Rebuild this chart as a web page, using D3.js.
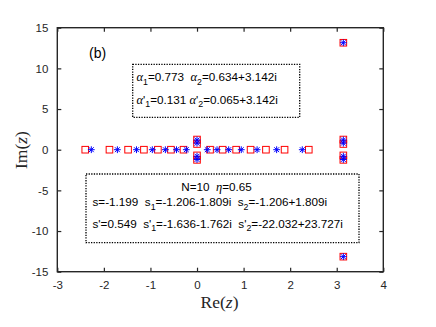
<!DOCTYPE html>
<html>
<head>
<meta charset="utf-8">
<script src="https://cdn.jsdelivr.net/npm/d3@7"></script>
<style>
  body { margin: 0; background: #fff; }
  text { font-family: "Liberation Sans", Arial, sans-serif; white-space: pre; }
</style>
</head>
<body>
<div id="graph"></div>
<script>
// real-axis roots (squares = red, stars = blue)
var sqRe = [-2.40, -1.88, -1.48, -1.14, -0.84, -0.56, -0.29, 0.28, 0.55, 0.84, 1.15, 1.48, 1.88, 2.40];
var starRe = [-2.27, -1.71, -1.30, -0.96, -0.68, -0.44, -0.23, 0.22, 0.43, 0.68, 0.95, 1.29, 1.71, 2.26];
// complex roots [re, im]
var sqCx = [[0, 1.25], [0, 0.7], [0, -0.7], [0, -1.25], [3.142, 1.25], [3.142, 0.7], [3.142, -0.7], [3.142, -1.25], [3.142, 13.15], [3.142, -13.15]];
var starCx = [[0, 1.2], [0, 0.8], [0, -0.8], [0, -1.2], [3.142, 1.2], [3.142, 0.8], [3.142, -0.8], [3.142, -1.2], [3.142, 13.15], [3.142, -13.15]];
var xTicks = [-3, -2, -1, 0, 1, 2, 3, 4];
var yTicks = [-15, -10, -5, 0, 5, 10, 15];

var width = 436, height = 327;
var margin = {left: 57.3, right: 436 - 383.3, top: 27.7, bottom: 327 - 271.7};
var w = width - margin.left - margin.right;
var h = height - margin.top - margin.bottom;
var x = d3.scaleLinear().domain([-3, 4]).range([0, w]);
var y = d3.scaleLinear().domain([-15, 15]).range([h, 0]);
var axisColor = "#262626";

var svg = d3.select("#graph").append("svg")
    .attr("width", width)
    .attr("height", height)
  .append("g")
    .attr("transform", "translate(" + margin.left + "," + margin.top + ")");

function fmt(d) { return String(d).replace("−", "-"); }

// axes with inward ticks, mirrored
var xb = svg.append("g").attr("transform", "translate(0," + h + ")")
    .call(d3.axisBottom(x).tickValues(xTicks).tickSizeInner(-4).tickSizeOuter(0).tickPadding(9).tickFormat(fmt));
var xt = svg.append("g")
    .call(d3.axisTop(x).tickValues(xTicks).tickSizeInner(-4).tickSizeOuter(0).tickFormat(""));
var yl = svg.append("g")
    .call(d3.axisLeft(y).tickValues(yTicks).tickSizeInner(-4).tickSizeOuter(0).tickPadding(9).tickFormat(fmt));
var yr = svg.append("g").attr("transform", "translate(" + w + ",0)")
    .call(d3.axisRight(y).tickValues(yTicks).tickSizeInner(-4).tickSizeOuter(0).tickFormat(""));
[xb, xt, yl, yr].forEach(function(a) {
  a.select(".domain").remove();
  a.selectAll(".tick line").attr("stroke", axisColor).attr("stroke-width", 1.2);
  a.selectAll("text").attr("fill", axisColor).style("font-size", "11.5px");
});
svg.append("rect").attr("width", w).attr("height", h)
    .attr("fill", "none").attr("stroke", axisColor).attr("stroke-width", 1.4);

// markers
var sqPts = sqRe.map(function(d) { return [d, 0]; }).concat(sqCx);
var starPts = starRe.map(function(d) { return [d, 0]; }).concat(starCx);

svg.selectAll(".sq").data(sqPts).enter().append("rect")
    .attr("class", "sq")
    .attr("x", function(d) { return x(d[0]) - 3.3; })
    .attr("y", function(d) { return y(d[1]) - 3.3; })
    .attr("width", 6.6).attr("height", 6.6)
    .attr("fill", "none").attr("stroke", "#ff0000").attr("stroke-width", 1);

var r = 3.4, rd = r * 0.72;
var star = "M" + (-r) + ",0H" + r + "M0," + (-r) + "V" + r +
    "M" + (-rd) + "," + (-rd) + "L" + rd + "," + rd +
    "M" + (-rd) + "," + rd + "L" + rd + "," + (-rd);
svg.selectAll(".st").data(starPts).enter().append("path")
    .attr("class", "st")
    .attr("transform", function(d) { return "translate(" + x(d[0]) + "," + y(d[1]) + ")"; })
    .attr("d", star)
    .attr("fill", "none").attr("stroke", "#0000ff").attr("stroke-width", 1);

// label (b)
svg.append("text").attr("x", 89 - margin.left).attr("y", 58 - margin.top)
    .style("font-size", "14px").attr("fill", "#000").text("(b)");

// text boxes
function box(x0, y0, x1, y1) {
  svg.append("rect")
      .attr("x", x0 - margin.left).attr("y", y0 - margin.top)
      .attr("width", x1 - x0).attr("height", y1 - y0)
      .attr("fill", "#fff").attr("stroke", "#000").attr("stroke-width", 1.3)
      .attr("stroke-dasharray", "1.3,1.3");
}
function line(px, py, parts, anchor) {
  var t = svg.append("text").attr("x", px - margin.left).attr("y", py - margin.top)
      .style("font-size", "11.7px").attr("fill", "#000")
      .attr("text-anchor", anchor || "start");
  parts.forEach(function(p) {
    var s = t.append("tspan").text(p[0]);
    if (p[1] === "sub") s.attr("dy", 3.5).style("font-size", "8.8px");
    if (p[1] === "back") s.attr("dy", -3.5);
    if (p[1] === "it") s.style("font-family", "'Liberation Serif', serif").style("font-style", "italic").style("font-size", "12.5px");
  });
}

box(132.7, 64.3, 299.7, 117.3);
line(136.5, 81.5, [["α", "it"], ["1", "sub"], ["=0.773  ", "back"], ["α", "it"], ["2", "sub"], ["=0.634+3.142i", "back"]]);
line(136.5, 104, [["α", "it"], ["'"], ["1", "sub"], ["=0.131 ", "back"], ["α", "it"], ["'"], ["2", "sub"], ["=0.065+3.142i", "back"]]);

box(86, 174, 359, 242.7);
line(216.5, 190.7, [["N=10  "], ["η", "it"], ["=0.65"]], "middle");
line(92.5, 206.5, [["s=-1.199  s"], ["1", "sub"], ["=-1.206-1.809i  s", "back"], ["2", "sub"], ["=-1.206+1.809i", "back"]]);
line(92.5, 228, [["s'=0.549  s'"], ["1", "sub"], ["=-1.636-1.762i  s'", "back"], ["2", "sub"], ["=-22.032+23.727i", "back"]]);

// axis titles
var serif = "'Liberation Serif', 'Times New Roman', serif";
var xl = svg.append("text").attr("x", 219.5 - margin.left).attr("y", 308 - margin.top)
    .attr("text-anchor", "middle").style("font-family", serif).style("font-size", "17.5px").attr("fill", axisColor);
xl.append("tspan").text("Re(");
xl.append("tspan").style("font-style", "italic").text("z");
xl.append("tspan").text(")");
var ylab = svg.append("text")
    .attr("transform", "translate(" + (27 - margin.left) + "," + (150 - margin.top) + ") rotate(-90)")
    .attr("text-anchor", "middle").style("font-family", serif).style("font-size", "17.5px").attr("fill", axisColor);
ylab.append("tspan").text("Im(");
ylab.append("tspan").style("font-style", "italic").text("z");
ylab.append("tspan").text(")");
</script>
</body>
</html>
